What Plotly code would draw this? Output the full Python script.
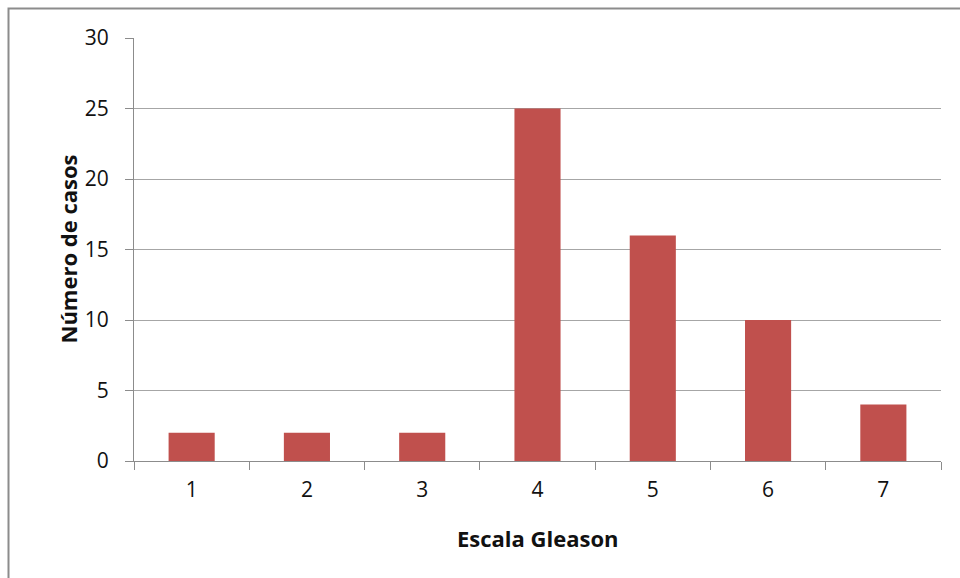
import plotly.graph_objects as go

# Gleason score distribution
escala = ["1", "2", "3", "4", "5", "6", "7"]
casos = [2, 2, 2, 25, 16, 10, 4]
y_ticks = [0, 5, 10, 15, 20, 25, 30]

W, H = 960, 578
L, R, T, B = 134, 19, 38, 117

fig = go.Figure(
    go.Bar(x=escala, y=casos, marker=dict(color="#C0504D", line=dict(width=0)))
)

font_family = "Open Sans, Liberation Sans, sans-serif"

fig.update_layout(
    width=W,
    height=H,
    margin=dict(l=L, r=R, t=T, b=B),
    paper_bgcolor="white",
    plot_bgcolor="white",
    bargap=0.6,
    showlegend=False,
    font=dict(family=font_family, size=21, color="#111"),
    xaxis=dict(
        type="category",
        tickson="boundaries",
        ticks="outside",
        ticklen=8,
        tickcolor="#8c8c8c",
        showline=True,
        linecolor="#8c8c8c",
        linewidth=1,
        showgrid=False,
        tickfont=dict(size=21),
        ticklabelstandoff=10,
    ),
    yaxis=dict(
        range=[0, 30],
        tickvals=y_ticks,
        ticks="outside",
        ticklen=8,
        tickcolor="#8c8c8c",
        showline=True,
        linecolor="#8c8c8c",
        linewidth=1,
        showgrid=True,
        gridcolor="#a6a6a6",
        gridwidth=1,
        zeroline=False,
        tickfont=dict(size=21),
        ticklabelstandoff=12,
    ),
    annotations=[
        dict(
            text="<b>Escala Gleason</b>", xref="paper", yref="paper",
            x=0.5, y=-(538 - (H - B)) / (H - T - B), xanchor="center", yanchor="middle",
            showarrow=False, font=dict(size=22),
        ),
        dict(
            text="<b>Número de casos</b>", xref="paper", yref="paper",
            x=-(L - 67) / (W - L - R), y=0.5, xanchor="center", yanchor="middle",
            textangle=-90, showarrow=False, font=dict(size=22),
        ),
    ],
)

# chart frame (left and top edges visible within the page)
pw, ph = W - L - R, H - T - B
x0 = (8.5 - L) / pw
y1 = 1 + (T - 8.5) / ph
fig.add_shape(
    type="rect", xref="paper", yref="paper",
    x0=x0, x1=(W + 10 - L) / pw, y0=-(H + 10 - (H - B)) / ph - 1, y1=y1,
    line=dict(color="#8c8c8c", width=2), fillcolor="rgba(0,0,0,0)", layer="above",
)

fig.write_html("out.html")
